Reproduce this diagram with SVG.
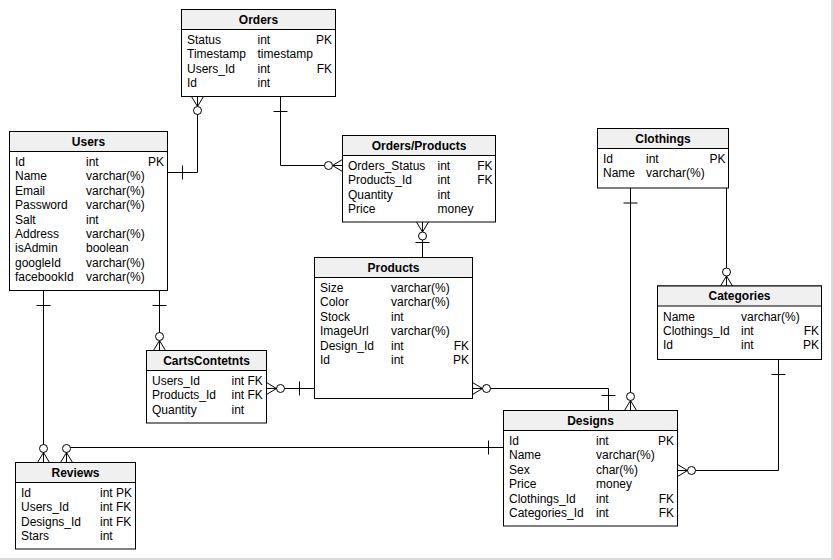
<svg xmlns="http://www.w3.org/2000/svg" width="833" height="560" viewBox="0 0 833 560">
<style>
text{font-family:"Liberation Sans",Arial,sans-serif;font-size:12px;fill:#000}
.t{font-weight:bold;text-anchor:middle}
.r{text-anchor:end}
.box{fill:#fff;stroke:#000;stroke-width:1}
.hd{fill:#f0f0f0;stroke:#000;stroke-width:1}
.c{fill:none;stroke:#000;stroke-width:1;marker-end:url(#zm)}
.o{marker-start:url(#one)}
</style>
<defs>
<marker id="zm" markerUnits="userSpaceOnUse" orient="auto-start-reverse" markerWidth="40" markerHeight="40" refX="0" refY="0" viewBox="-20 -20 40 40" overflow="visible">
<path d="M0,-6 L-10,0 L0,6 M0,0 L-10,0" fill="none" stroke="#000" stroke-width="1"/>
<circle cx="-14" cy="0" r="4" fill="#fff" stroke="#000" stroke-width="1"/>
</marker>
<marker id="one" markerUnits="userSpaceOnUse" orient="auto-start-reverse" markerWidth="40" markerHeight="40" refX="0" refY="0" viewBox="-20 -20 40 40" overflow="visible">
<path d="M-15,-7 L-15,7" fill="none" stroke="#000" stroke-width="1"/>
</marker>
</defs>
<rect width="833" height="560" fill="#fff"/>
<path d="M832,0 V559 H0" fill="none" stroke="#d0d0d0" stroke-width="1.5"/>
<g id="connectors">
<path class="c o" d="M167.5,172.5 H197.5 V96.5"/>
<path class="c o" d="M280.5,96.5 V165.5 H342.5"/>
<path class="c o" d="M422.5,257.5 V222"/>
<path class="c o" d="M159.5,290.5 V350.5"/>
<path class="c o" d="M43.5,290.5 V462.5"/>
<path class="c o" d="M503.5,447.5 H66.5 V462.5"/>
<path class="c o" d="M314.5,388.5 H266.5"/>
<path class="c o" d="M608.5,410.5 V388.5 H472.5"/>
<path class="c o" d="M630.5,188 V410.5"/>
<path class="c" d="M726.5,188 V286"/>
<path class="c o" d="M778.5,359.5 V470.5 H677.5"/>
</g>
<g id="Orders">
<rect class="box" x="181.5" y="9.5" width="154" height="87"/>
<rect class="hd" x="181.5" y="9.5" width="154" height="20"/>
<text class="t" x="258.5" y="23.5">Orders</text>
<text x="187" y="44">Status</text><text x="257.5" y="44">int</text><text class="r" x="332" y="44">PK</text>
<text x="187" y="58.4">Timestamp</text><text x="257.5" y="58.4">timestamp</text>
<text x="187" y="72.8">Users_Id</text><text x="257.5" y="72.8">int</text><text class="r" x="332" y="72.8">FK</text>
<text x="187" y="87.2">Id</text><text x="257.5" y="87.2">int</text>
</g>
<g id="Users">
<rect class="box" x="9.5" y="131.5" width="158" height="159"/>
<rect class="hd" x="9.5" y="131.5" width="158" height="20"/>
<text class="t" x="88.5" y="145.5">Users</text>
<text x="15" y="166">Id</text><text x="86" y="166">int</text><text class="r" x="164" y="166">PK</text>
<text x="15" y="180.4">Name</text><text x="86" y="180.4">varchar(%)</text>
<text x="15" y="194.8">Email</text><text x="86" y="194.8">varchar(%)</text>
<text x="15" y="209.2">Password</text><text x="86" y="209.2">varchar(%)</text>
<text x="15" y="223.6">Salt</text><text x="86" y="223.6">int</text>
<text x="15" y="238">Address</text><text x="86" y="238">varchar(%)</text>
<text x="15" y="252.4">isAdmin</text><text x="86" y="252.4">boolean</text>
<text x="15" y="266.8">googleId</text><text x="86" y="266.8">varchar(%)</text>
<text x="15" y="281.2">facebookId</text><text x="86" y="281.2">varchar(%)</text>
</g>
<g id="OrdersProducts">
<rect class="box" x="342.5" y="135.5" width="153" height="86.5"/>
<rect class="hd" x="342.5" y="135.5" width="153" height="20"/>
<text class="t" x="419" y="149.5">Orders/Products</text>
<text x="348" y="170">Orders_Status</text><text x="437.5" y="170">int</text><text class="r" x="492.5" y="170">FK</text>
<text x="348" y="184.4">Products_Id</text><text x="437.5" y="184.4">int</text><text class="r" x="492.5" y="184.4">FK</text>
<text x="348" y="198.8">Quantity</text><text x="437.5" y="198.8">int</text>
<text x="348" y="213.2">Price</text><text x="437.5" y="213.2">money</text>
</g>
<g id="Clothings">
<rect class="box" x="597.5" y="128.5" width="131" height="59.5"/>
<rect class="hd" x="597.5" y="128.5" width="131" height="20"/>
<text class="t" x="663" y="142.5">Clothings</text>
<text x="603" y="163">Id</text><text x="646" y="163">int</text><text class="r" x="725.5" y="163">PK</text>
<text x="603" y="177.4">Name</text><text x="646" y="177.4">varchar(%)</text>
</g>
<g id="Categories">
<rect class="box" x="657.5" y="286" width="164" height="73.5"/>
<rect class="hd" x="657.5" y="286" width="164" height="20"/>
<text class="t" x="739.5" y="300">Categories</text>
<text x="663" y="320.5">Name</text><text x="741" y="320.5">varchar(%)</text>
<text x="663" y="334.9">Clothings_Id</text><text x="741" y="334.9">int</text><text class="r" x="819" y="334.9">FK</text>
<text x="663" y="349.3">Id</text><text x="741" y="349.3">int</text><text class="r" x="819" y="349.3">PK</text>
</g>
<g id="Products">
<rect class="box" x="314.5" y="257.5" width="158" height="141"/>
<rect class="hd" x="314.5" y="257.5" width="158" height="20"/>
<text class="t" x="393.5" y="271.5">Products</text>
<text x="320" y="292">Size</text><text x="391" y="292">varchar(%)</text>
<text x="320" y="306.4">Color</text><text x="391" y="306.4">varchar(%)</text>
<text x="320" y="320.8">Stock</text><text x="391" y="320.8">int</text>
<text x="320" y="335.2">ImageUrl</text><text x="391" y="335.2">varchar(%)</text>
<text x="320" y="349.6">Design_Id</text><text x="391" y="349.6">int</text><text class="r" x="469" y="349.6">FK</text>
<text x="320" y="364">Id</text><text x="391" y="364">int</text><text class="r" x="469" y="364">PK</text>
</g>
<g id="CartsContetnts">
<rect class="box" x="146.5" y="350.5" width="120" height="72.5"/>
<rect class="hd" x="146.5" y="350.5" width="120" height="20"/>
<text class="t" x="206.5" y="364.5">CartsContetnts</text>
<text x="152" y="385">Users_Id</text><text x="231.5" y="385">int FK</text>
<text x="152" y="399.4">Products_Id</text><text x="231.5" y="399.4">int FK</text>
<text x="152" y="413.8">Quantity</text><text x="231.5" y="413.8">int</text>
</g>
<g id="Designs">
<rect class="box" x="503.5" y="410.5" width="174" height="115.5"/>
<rect class="hd" x="503.5" y="410.5" width="174" height="20"/>
<text class="t" x="590.5" y="424.5">Designs</text>
<text x="509" y="445">Id</text><text x="596" y="445">int</text><text class="r" x="674" y="445">PK</text>
<text x="509" y="459.4">Name</text><text x="596" y="459.4">varchar(%)</text>
<text x="509" y="473.8">Sex</text><text x="596" y="473.8">char(%)</text>
<text x="509" y="488.2">Price</text><text x="596" y="488.2">money</text>
<text x="509" y="502.6">Clothings_Id</text><text x="596" y="502.6">int</text><text class="r" x="674" y="502.6">FK</text>
<text x="509" y="517">Categories_Id</text><text x="596" y="517">int</text><text class="r" x="674" y="517">FK</text>
</g>
<g id="Reviews">
<rect class="box" x="15.5" y="462.5" width="120" height="86.5"/>
<rect class="hd" x="15.5" y="462.5" width="120" height="20"/>
<text class="t" x="75.5" y="476.5">Reviews</text>
<text x="21" y="497">Id</text><text x="100" y="497">int PK</text>
<text x="21" y="511.4">Users_Id</text><text x="100" y="511.4">int FK</text>
<text x="21" y="525.8">Designs_Id</text><text x="100" y="525.8">int FK</text>
<text x="21" y="540.2">Stars</text><text x="100" y="540.2">int</text>
</g>
</svg>
